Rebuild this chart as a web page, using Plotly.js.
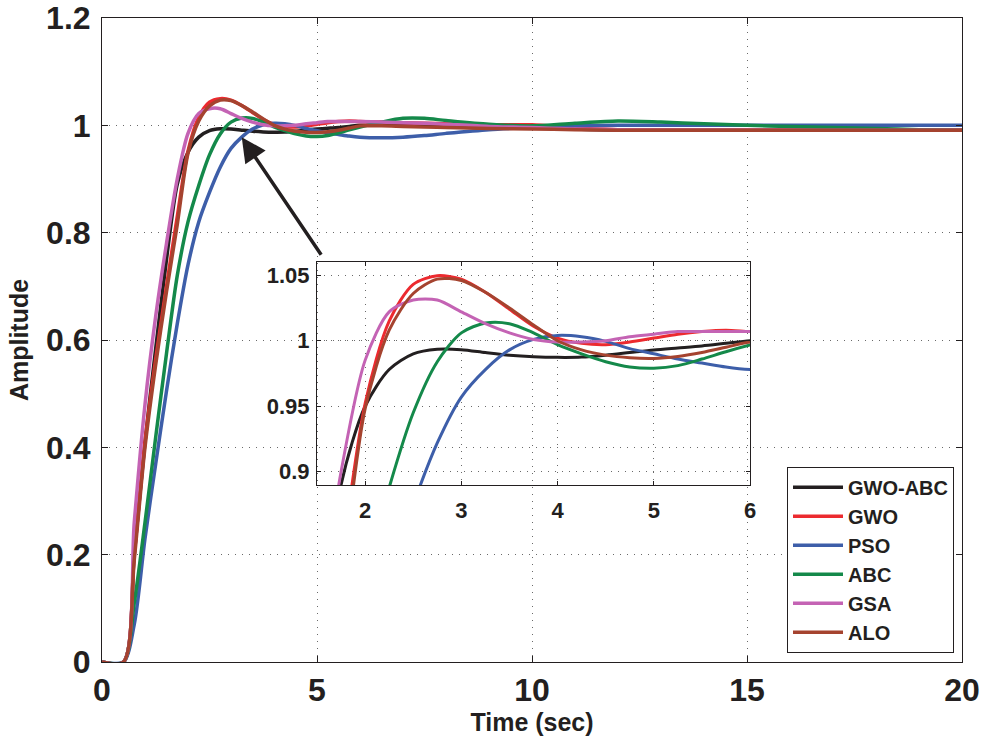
<!DOCTYPE html>
<html>
<head>
<meta charset="utf-8">
<script src="https://cdn.plot.ly/plotly-3.0.1.min.js"></script>
<style>
  html, body { margin: 0; padding: 0; background: #ffffff; }
  #chart { width: 984px; height: 742px; }
</style>
</head>
<body>
<div id="chart"></div>
<script>
// ---- data ----
const time = [0, 0.5, 0.75, 1.0, 1.25, 1.5, 1.75, 2.0, 2.25, 2.5, 2.75, 3.0, 3.25, 3.5, 3.75, 4.0, 4.25, 4.5, 4.75, 5.0,
              5.25, 5.5, 5.75, 6.0, 6.5, 7, 7.5, 8, 9, 10, 11, 12, 13, 14, 15, 16, 17, 18, 19, 20];

const gwoAbc = [0, 0, 0.2, 0.41, 0.585, 0.75, 0.89, 0.95, 0.978, 0.99, 0.9935, 0.9932, 0.991, 0.989, 0.9878, 0.9873, 0.9875, 0.989, 0.991, 0.993,
                0.9945, 0.996, 0.998, 1.0, 1.001, 1.002, 1.002, 1.001, 0.999, 0.996, 0.993, 0.991, 0.991, 0.991, 0.991, 0.991, 0.991, 0.991, 0.991, 0.991];

const gwo = [0, 0, 0.2, 0.41, 0.565, 0.70, 0.83, 0.952, 1.015, 1.043, 1.0496, 1.047, 1.037, 1.024, 1.011, 1.002, 0.998, 0.997, 0.999, 1.002,
             1.005, 1.007, 1.008, 1.007, 1.006, 1.005, 1.004, 1.003, 1.001, 1.001, 0.995, 0.992, 0.991, 0.991, 0.991, 0.991, 0.991, 0.991, 0.991, 0.991];

const pso = [0, 0, 0.07, 0.23, 0.37, 0.505, 0.63, 0.74, 0.82, 0.875, 0.922, 0.957, 0.978, 0.993, 1.001, 1.004, 1.003, 0.9995, 0.994, 0.99,
             0.986, 0.983, 0.98, 0.978, 0.977, 0.978, 0.981, 0.985, 0.992, 0.996, 0.999, 1.0, 1.0, 1.0, 1.0, 1.0, 1.0, 1.0, 1.0, 1.0];

const abc = [0, 0, 0.11, 0.26, 0.42, 0.575, 0.72, 0.82, 0.888, 0.945, 0.984, 1.006, 1.0135, 1.013, 1.006, 0.997, 0.99, 0.984, 0.98, 0.979,
             0.981, 0.986, 0.9916, 0.9967, 1.006, 1.013, 1.013, 1.009, 1.002, 0.999, 1.004, 1.008, 1.006, 1.003, 1.0, 0.998, 0.996, 0.994, 0.992, 0.991];

const gsa = [0, 0, 0.26, 0.48, 0.645, 0.78, 0.9, 0.985, 1.022, 1.031, 1.031, 1.022, 1.013, 1.006, 1.001, 0.999, 0.999, 1.0, 1.003, 1.005,
             1.007, 1.007, 1.007, 1.007, 1.006, 1.005, 1.004, 1.002, 0.998, 0.996, 0.993, 0.992, 0.991, 0.991, 0.991, 0.991, 0.991, 0.991, 0.991, 0.991];

const alo = [0, 0, 0.19, 0.40, 0.555, 0.69, 0.815, 0.948, 1.008, 1.036, 1.047, 1.046, 1.037, 1.025, 1.012, 1.0, 0.993, 0.989, 0.987, 0.9865,
             0.988, 0.991, 0.995, 0.999, 0.999, 0.998, 0.997, 0.996, 0.994, 0.993, 0.992, 0.991, 0.991, 0.991, 0.991, 0.991, 0.991, 0.991, 0.991, 0.991];

const seriesNames = ['GWO-ABC', 'GWO', 'PSO', 'ABC', 'GSA', 'ALO'];
const seriesValues = [gwoAbc, gwo, pso, abc, gsa, alo];

const mainXTicks = [0, 5, 10, 15, 20];
const mainYTicks = [0, 0.2, 0.4, 0.6, 0.8, 1, 1.2];
const mainYTickText = ['0', '0.2', '0.4', '0.6', '0.8', '1', '1.2'];
const insetXTicks = [2, 3, 4, 5, 6];
const insetYTicks = [0.9, 0.95, 1, 1.05];
const insetYTickText = ['0.9', '0.95', '1', '1.05'];

// ---- styles ----
const colors = ['#231f20', '#ec2a2f', '#3d5ea9', '#14894a', '#c463b4', '#a5432f'];
const FONT = '"Liberation Sans", Arial, Helvetica, sans-serif';
const TXT = '#231f20';

const traces = [];
seriesNames.forEach((name, i) => {
  traces.push({
    x: time, y: seriesValues[i], name: name, type: 'scatter', mode: 'lines',
    line: {color: colors[i], width: 3.5, shape: 'spline', smoothing: 0.8},
    xaxis: 'x', yaxis: 'y', hoverinfo: 'skip'
  });
});
seriesNames.forEach((name, i) => {
  traces.push({
    x: time, y: seriesValues[i], name: name, type: 'scatter', mode: 'lines',
    line: {color: colors[i], width: 3, shape: 'spline', smoothing: 0.8},
    xaxis: 'x2', yaxis: 'y2', showlegend: false, hoverinfo: 'skip'
  });
});

const axisCommon = {
  showline: true, linecolor: '#231f20', linewidth: 1, mirror: 'ticks',
  ticks: 'inside', ticklen: 6, tickcolor: '#231f20', tickwidth: 1,
  showgrid: true, gridcolor: '#6a6a6a', gridwidth: 1, griddash: '1px,6px',
  zeroline: false, fixedrange: true
};

const layout = {
  width: 984, height: 742,
  margin: {l: 102, r: 22, t: 18, b: 80},
  paper_bgcolor: '#ffffff', plot_bgcolor: 'rgba(0,0,0,0)',
  font: {family: FONT, color: TXT},
  showlegend: true,
  xaxis: Object.assign({}, axisCommon, {
    domain: [0, 1], range: [0, 20], tickmode: 'array', tickvals: mainXTicks,
    tickfont: {family: FONT, size: 32, weight: 'bold', color: TXT},
    ticklabelstandoff: 0,
    title: {text: 'Time (sec)', font: {family: FONT, size: 25, weight: 'bold', color: TXT}, standoff: 0}
  }),
  yaxis: Object.assign({}, axisCommon, {
    domain: [0, 1], range: [0, 1.2], tickmode: 'array', tickvals: mainYTicks, ticktext: mainYTickText,
    tickfont: {family: FONT, size: 32, weight: 'bold', color: TXT},
    ticklabelstandoff: 4,
    title: {text: 'Amplitude', font: {family: FONT, size: 25, weight: 'bold', color: TXT}, standoff: 10}
  }),
  xaxis2: Object.assign({}, axisCommon, {
    domain: [0.25, 0.7535], anchor: 'y2', range: [1.5, 6], tickmode: 'array', tickvals: insetXTicks,
    tickfont: {family: FONT, size: 22, weight: 'bold', color: TXT}, ticklen: 4, ticklabelstandoff: 6
  }),
  yaxis2: Object.assign({}, axisCommon, {
    domain: [0.275, 0.621], anchor: 'x2', range: [0.89, 1.06], tickmode: 'array',
    tickvals: insetYTicks, ticktext: insetYTickText,
    tickfont: {family: FONT, size: 22, weight: 'bold', color: TXT}, ticklen: 4, ticklabelstandoff: 2
  }),
  legend: {
    x: 0.9907, xanchor: 'right', y: 0.0144, yanchor: 'bottom',
    bgcolor: '#ffffff', bordercolor: '#231f20', borderwidth: 1,
    font: {family: FONT, size: 20, weight: 'bold', color: TXT},
    itemwidth: 50, tracegroupgap: 0
  },
  annotations: [{
    xref: 'x', yref: 'y', x: 3.25, y: 0.978,
    axref: 'x', ayref: 'y', ax: 5.12, ay: 0.756,
    text: '', showarrow: true, arrowhead: 2, arrowsize: 1.4, arrowwidth: 3.5,
    arrowcolor: '#231f20', standoff: 0
  }]
};

Plotly.newPlot('chart', traces, layout, {staticPlot: true, displayModeBar: false});
</script>
</body>
</html>
